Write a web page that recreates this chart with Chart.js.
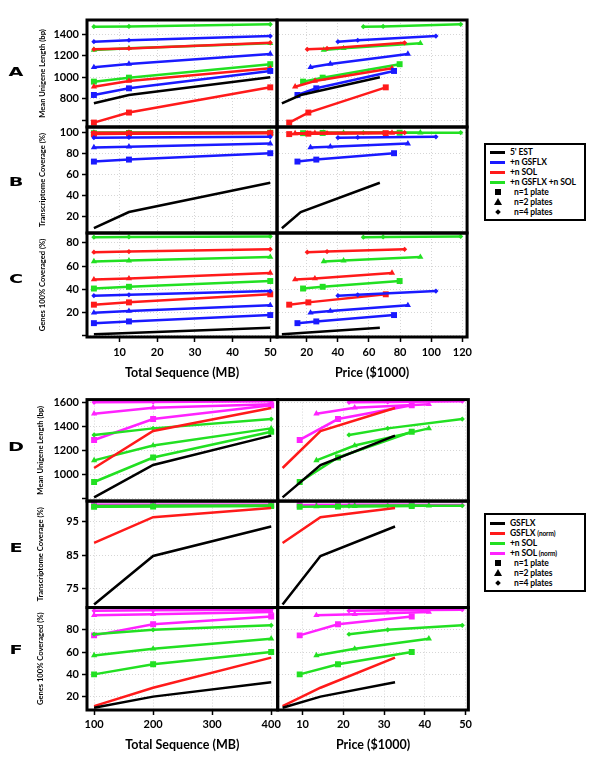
<!DOCTYPE html>
<html>
<head>
<meta charset="utf-8">
<script src="https://cdn.jsdelivr.net/npm/chart.js@4.4.1/dist/chart.umd.min.js"></script>
<style>
body{margin:0;background:#fff;width:600px;height:776px;position:relative;overflow:hidden}
canvas{position:absolute;left:0}
#topChart{top:0}
#botChart{top:390px}
.letter{position:absolute;left:1px;width:30px;text-align:center;font:bold 12px "DejaVu Sans",sans-serif;line-height:14px;transform:scaleX(1.6)}
.box{position:absolute;left:484px;width:98px;border:2px solid #000}
.it{position:absolute;font:bold 8.5px Lato,sans-serif;line-height:10px;white-space:nowrap;letter-spacing:-0.1px}
.it small{font-size:6.5px}
.ln{position:absolute;left:490px;width:15px;height:3px}
.sq{position:absolute;left:495px;width:6px;height:6px;background:#000}
.tri{position:absolute;left:494px;width:0;height:0;border-left:4px solid transparent;border-right:4px solid transparent;border-bottom:7px solid #000}
.dia{position:absolute;left:496px;width:4px;height:4px;background:#000;transform:rotate(45deg)}
</style>
</head>
<body>
<canvas id="topChart" width="480" height="390"></canvas>
<canvas id="botChart" width="480" height="386"></canvas>

<div class="letter" style="top:65px">A</div>
<div class="letter" style="top:175px">B</div>
<div class="letter" style="top:272px">C</div>
<div class="letter" style="top:440px">D</div>
<div class="letter" style="top:541px">E</div>
<div class="letter" style="top:643px">F</div>

<!-- legend, top figure -->
<div class="box" style="top:143px;height:74px"></div>
<div class="ln" style="top:151px;background:#000"></div><div class="it" style="left:510px;top:147px">5' EST</div>
<div class="ln" style="top:161px;background:#1a1aff"></div><div class="it" style="left:510px;top:157px">+n GSFLX</div>
<div class="ln" style="top:171px;background:#ff1a1a"></div><div class="it" style="left:510px;top:167px">+n SOL</div>
<div class="ln" style="top:181px;background:#22e022"></div><div class="it" style="left:510px;top:177px">+n GSFLX +n SOL</div>
<div class="sq" style="top:189px"></div><div class="it" style="left:514px;top:187px">n=1 plate</div>
<div class="tri" style="top:198px"></div><div class="it" style="left:514px;top:197px">n=2 plates</div>
<div class="dia" style="top:210px"></div><div class="it" style="left:514px;top:207px">n=4 plates</div>

<!-- legend, bottom figure -->
<div class="box" style="top:513px;height:75px"></div>
<div class="ln" style="top:522px;background:#000"></div><div class="it" style="left:510px;top:518px">GSFLX</div>
<div class="ln" style="top:532px;background:#ff1a1a"></div><div class="it" style="left:510px;top:528px">GSFLX <small>(norm)</small></div>
<div class="ln" style="top:542px;background:#22e022"></div><div class="it" style="left:510px;top:538px">+n SOL</div>
<div class="ln" style="top:552px;background:#ff22ff"></div><div class="it" style="left:510px;top:548px">+n SOL <small>(norm)</small></div>
<div class="sq" style="top:560px"></div><div class="it" style="left:514px;top:558px">n=1 plate</div>
<div class="tri" style="top:569px"></div><div class="it" style="left:514px;top:568px">n=2 plates</div>
<div class="dia" style="top:581px"></div><div class="it" style="left:514px;top:578px">n=4 plates</div>

<script>
// ---------- top figure (A-C) ----------
const seqTop = [3.2, 12.5, 50];          // total sequence, MB
const xTicksTopL = [10, 20, 30, 40, 50];
const xTicksTopR = [20, 40, 60, 80, 100, 120];

// price ($1000) per series
const priceEST = [4.1, 16.2, 67];
const priceGS1 = [14.1, 26.2, 76.1];
const priceGS2 = [22.5, 35.2, 85];
const priceGS4 = [40.1, 52.8, 103];
const priceSOL1 = [8.8, 21.1, 70.8];
const priceSOL2 = [12.6, 25.3, 74.8];
const priceSOL4 = [20.4, 33.1, 82.9];
const priceBoth1 = [17.7, 30.3, 79.7];
const priceBoth2 = [31, 43.7, 93];
const priceBoth4 = [56.4, 69.1, 118.9];

// A: mean unigene length (bp)
const yTicksA = [600, 800, 1000, 1200, 1400];
const lenEST = [757, 834, 998];
const lenGS1 = [834, 896, 1057];
const lenGS2 = [1091, 1122, 1215];
const lenGS4 = [1329, 1342, 1381];
const lenSOL1 = [578, 671, 905];
const lenSOL2 = [911, 964, 1082];
const lenSOL4 = [1258, 1266, 1318];
const lenBoth1 = [958, 995, 1120];
const lenBoth2 = [1252, 1268, 1314];
const lenBoth4 = [1468, 1470, 1490];

// B: transcriptome coverage (%)
const yTicksB = [20, 40, 60, 80, 100];
const covEST = [8.5, 24, 52];
const covGS1 = [72.3, 74.2, 80.3];
const covGS2 = [85.8, 86.6, 89.5];
const covGS4 = [95.2, 95.4, 96];
const covSOL1 = [98.6, 99, 99.5];
const covSOL2 = [99.3, 99.5, 99.8];
const covSOL4 = [99.8, 99.9, 100];
const covBoth1 = [99.5, 99.7, 99.9];
const covBoth2 = [99.8, 99.9, 100];
const covBoth4 = [100, 100, 100];

// C: genes 100% covered (%)
const yTicksC = [0, 20, 40, 60, 80];
const genEST = [0.8, 2, 6.5];
const genGS1 = [10.5, 12, 17.5];
const genGS2 = [19.5, 21, 26];
const genGS4 = [34.3, 35, 38.3];
const genSOL1 = [26.5, 28.5, 35.5];
const genSOL2 = [48.3, 49.2, 54];
const genSOL4 = [72, 72.5, 74.5];
const genBoth1 = [40.5, 42, 47];
const genBoth2 = [64, 64.7, 67.8];
const genBoth4 = [85, 85.2, 85.6];

// ---------- bottom figure (D-F) ----------
const seqBot = [100, 200, 400];
const xTicksBotL = [100, 200, 300, 400];
const xTicksBotR = [10, 20, 30, 40, 50];

const priceGSFLX = [5.1, 14.4, 32.7];
const priceAdd1 = [9.3, 18.7, 36.8];
const priceAdd2 = [13.4, 22.8, 41];
const priceAdd4 = [21.4, 30.9, 49.2];

// D
const yTicksD = [800, 1000, 1200, 1400, 1600];
const lenGSFLX = [809, 1080, 1326];
const lenNorm = [1055, 1365, 1558];
const lenAdd1 = [938, 1143, 1359];
const lenAdd2 = [1119, 1243, 1387];
const lenAdd4 = [1332, 1387, 1465];
const lenAddN1 = [1290, 1465, 1580];
const lenAddN2 = [1510, 1560, 1590];
const lenAddN4 = [1605, 1608, 1615];

// E
const yTicksE = [75, 85, 95];
const covGSFLX = [70.3, 84.8, 93.6];
const covNorm = [88.7, 96.4, 99.1];
const covAdd1 = [99.5, 99.6, 99.7];
const covAdd2 = [99.6, 99.7, 99.8];
const covAdd4 = [99.7, 99.8, 99.8];
const covAddN1 = [100, 100, 100];
const covAddN2 = [100, 100, 100];
const covAddN4 = [100, 100, 100];

// F
const yTicksF = [20, 40, 60, 80];
const genGSFLX = [10, 20, 33];
const genNorm = [11.5, 28, 55];
const genAdd1 = [40, 49, 60];
const genAdd2 = [57, 63, 72];
const genAdd4 = [76, 80, 84];
const genAddN1 = [75, 85, 92];
const genAddN2 = [93, 94, 96];
const genAddN4 = [97, 97.5, 98];

const BLACK = '#000', BLUE = '#1a1aff', RED = '#ff1a1a', GREEN = '#22e022', MAG = '#ff22ff';
const GRID = '#d6d6d6';
const sizes = {rect: 4.2, triangle: 3.6, rectRot: 2.6};

const tickFont = {family: 'Lato, "Open Sans", sans-serif', weight: 'bold', size: 11};
const yTitleFont = {family: 'Lato, sans-serif', weight: 'bold', size: 7.6};
const xTitleFont = {family: 'Lato, sans-serif', weight: 'bold', size: 12.5};

function line(xs, ys, color, shape, xId, yId) {
  return {
    data: xs.map((x, i) => ({x: x, y: ys[i]})),
    xAxisID: xId, yAxisID: yId,
    borderColor: color, backgroundColor: color, borderWidth: 2.5,
    pointStyle: shape || 'circle', pointRadius: shape ? sizes[shape] : 0,
    pointBackgroundColor: color, pointBorderColor: color, pointBorderWidth: 0,
    tension: 0, fill: false
  };
}

function yScale(min, max, ticks, hidden, title, weight, sw, titlePad) {
  return {
    type: 'linear', position: 'left', stack: 'rows', stackWeight: sw, weight: weight,
    min: min, max: max, bounds: 'data',
    afterFit: s => { s.width = 87; },
    afterBuildTicks: s => { s.ticks = ticks.map(v => ({value: v})); },
    ticks: {autoSkip: false, padding: 3, color: '#000', font: tickFont,
            callback: v => (v === hidden ? '' : v)},
    grid: {color: GRID, lineWidth: 1, tickLength: 5, tickColor: '#000', tickWidth: 1.5, tickBorderDash: []},
    border: {display: false, dash: [1, 2]},
    title: {display: true, text: title, color: '#000', font: yTitleFont, padding: {top: titlePad, bottom: 0}}
  };
}

function xScale(min, max, ticks, title, weight, h, tickPad, titlePad) {
  return {
    type: 'linear', position: 'bottom', stack: 'cols', stackWeight: 1, weight: weight,
    min: min, max: max, bounds: 'data',
    afterFit: s => { s.height = h; },
    afterBuildTicks: s => { s.ticks = ticks.map(v => ({value: v})); },
    ticks: {autoSkip: false, maxRotation: 0, padding: tickPad, color: '#000', font: tickFont},
    grid: {color: GRID, lineWidth: 1, tickLength: 5, tickColor: '#000', tickWidth: 1.5, tickBorderDash: []},
    border: {display: false, dash: [1, 2]},
    title: {display: true, text: title, color: '#000', font: xTitleFont, padding: {top: 0, bottom: titlePad}}
  };
}

// thick black frame around every panel
const frames = {
  id: 'frames',
  afterDraw(chart, args, opts) {
    const ctx = chart.ctx, s = chart.scales;
    ctx.save();
    ctx.strokeStyle = '#000';
    ctx.lineWidth = 3;
    opts.xs.forEach(xi => opts.ys.forEach(yi => {
      ctx.strokeRect(s[xi].left, s[yi].top, s[xi].right - s[xi].left, s[yi].bottom - s[yi].top);
    }));
    ctx.restore();
  }
};

function makeChart(id, datasets, scales, xs, ys, pad) {
  return new Chart(document.getElementById(id), {
    type: 'line',
    data: {datasets: datasets},
    options: {
      responsive: false, animation: false, devicePixelRatio: 1,
      layout: {padding: pad},
      plugins: {legend: {display: false}, tooltip: {enabled: false}, frames: {xs: xs, ys: ys}},
      scales: scales
    },
    plugins: [frames]
  });
}

// top figure
const topSeries = [
  [BLACK, null, lenEST, covEST, genEST, priceEST],
  [BLUE, 'rect', lenGS1, covGS1, genGS1, priceGS1],
  [BLUE, 'triangle', lenGS2, covGS2, genGS2, priceGS2],
  [BLUE, 'rectRot', lenGS4, covGS4, genGS4, priceGS4],
  [RED, 'rect', lenSOL1, covSOL1, genSOL1, priceSOL1],
  [RED, 'triangle', lenSOL2, covSOL2, genSOL2, priceSOL2],
  [RED, 'rectRot', lenSOL4, covSOL4, genSOL4, priceSOL4],
  [GREEN, 'rect', lenBoth1, covBoth1, genBoth1, priceBoth1],
  [GREEN, 'triangle', lenBoth2, covBoth2, genBoth2, priceBoth2],
  [GREEN, 'rectRot', lenBoth4, covBoth4, genBoth4, priceBoth4]
];
const topSets = [];
topSeries.forEach(([c, m, a, b, g, p]) => {
  [[a, 'yA'], [b, 'yB'], [g, 'yC']].forEach(([ys, yId]) => {
    topSets.push(line(seqTop, ys, c, m, 'xL', yId));
    topSets.push(line(p, ys, c, m, 'xR', yId));
  });
});

makeChart('topChart', topSets, {
  yA: yScale(537, 1530, yTicksA, 600, 'Mean Unigene Length (bp)', 3, 107, 38),
  yB: yScale(3.9, 105.4, yTicksB, null, 'Transcriptome Coverage (%)', 2, 106, 38),
  yC: yScale(-1.5, 88.6, yTicksC, 0, 'Genes 100% Coveraged (%)', 1, 104, 38),
  xL: xScale(1.37, 51.8, xTicksTopL, 'Total Sequence (MB)', 1, 53, 4, 10),
  xR: xScale(1, 123, xTicksTopR, 'Price ($1000)', 2, 53, 4, 10)
}, ['xL', 'xR'], ['yA', 'yB', 'yC'], {top: 20, right: 7, left: 0, bottom: 0});

// bottom figure
const botSeries = [
  [BLACK, null, lenGSFLX, covGSFLX, genGSFLX, priceGSFLX],
  [RED, null, lenNorm, covNorm, genNorm, priceGSFLX],
  [GREEN, 'rect', lenAdd1, covAdd1, genAdd1, priceAdd1],
  [GREEN, 'triangle', lenAdd2, covAdd2, genAdd2, priceAdd2],
  [GREEN, 'rectRot', lenAdd4, covAdd4, genAdd4, priceAdd4],
  [MAG, 'rect', lenAddN1, covAddN1, genAddN1, priceAdd1],
  [MAG, 'triangle', lenAddN2, covAddN2, genAddN2, priceAdd2],
  [MAG, 'rectRot', lenAddN4, covAddN4, genAddN4, priceAdd4]
];
const botSets = [];
botSeries.forEach(([c, m, d, e, f, p]) => {
  [[d, 'yD'], [e, 'yE'], [f, 'yF']].forEach(([ys, yId]) => {
    botSets.push(line(seqBot, ys, c, m, 'xL', yId));
    botSets.push(line(p, ys, c, m, 'xR', yId));
  });
});

makeChart('botChart', botSets, {
  yD: yScale(778, 1628, yTicksD, 800, 'Mean Unigene Length (bp)', 3, 102, 36),
  yE: yScale(69.4, 101.2, yTicksE, null, 'Transcriptome Coverage (%)', 2, 107, 36),
  yF: yScale(8, 100, yTicksF, null, 'Genes 100% Coveraged (%)', 1, 103, 36),
  xL: xScale(88, 411, xTicksBotL, 'Total Sequence (MB)', 1, 66, 3, 24),
  xR: xScale(3.9, 50.7, xTicksBotR, 'Price ($1000)', 2, 66, 3, 24)
}, ['xL', 'xR'], ['yD', 'yE', 'yF'], {top: 8, right: 7, left: 0, bottom: 0});
</script>
</body>
</html>
